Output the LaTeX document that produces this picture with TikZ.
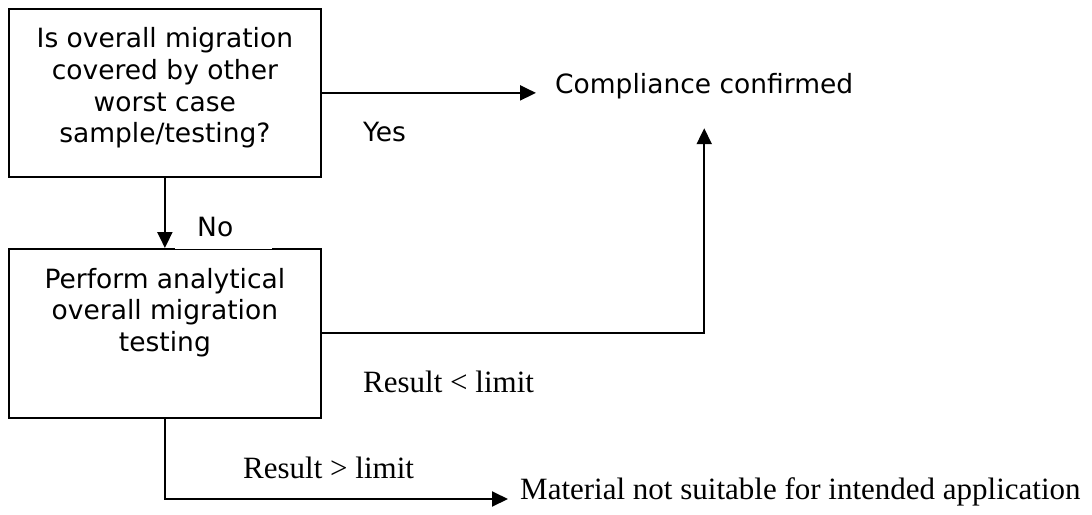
\documentclass[tikz,border=0pt]{standalone}
\usepackage{fontspec}
\newfontfamily\sansf{DejaVu Sans}
\newfontfamily\seriff{Liberation Serif}
\usetikzlibrary{arrows.meta}
\begin{document}
\begin{tikzpicture}[x=1pt,y=-1pt,
  boxst/.style={draw, line width=1.8pt, minimum width=312pt, inner sep=0pt, anchor=north west,
    font=\sansf\fontsize{26.5}{31.7}\selectfont},
  conn/.style={line width=2pt, -{Triangle[length=16pt,width=15pt]}},
  sanslbl/.style={inner sep=0pt, anchor=base west, font=\sansf\fontsize{26.5}{31.7}\selectfont},
  seriflbl/.style={inner sep=0pt, anchor=base west, font=\seriff\fontsize{31}{37}\selectfont}]
\fill[white] (0,0) rectangle (1092,514);
\useasboundingbox (0,0) rectangle (1092,514);

\node[boxst, minimum height=168pt] (box1) at (8,8)
  {\begin{tabular}{@{}c@{}}Is overall migration\\covered by other\\worst case\\sample/testing?\\[7.6pt]\end{tabular}};
\node[boxst, minimum height=169pt] (box2) at (8,248)
  {\begin{tabular}{@{}c@{}}Perform analytical\\overall migration\\testing\\[40pt]\end{tabular}};

\node[sanslbl, inner xsep=19pt, inner ysep=29.5pt] (comp) at (536,93) {Compliance confirmed};
\node[sanslbl] (yes) at (363,141) {Yes};
\node[sanslbl, anchor=south west, fill=white, text width=97pt, align=left, minimum height=44.5pt] (no) at (175,249.5) {\hspace*{22pt}No};
\node[seriflbl] (rlt) at (363,392) {Result < limit};
\node[seriflbl] (rgt) at (243,478) {Result > limit};
\node[seriflbl, inner xsep=12pt] (mat) at (508,499) {Material not suitable for intended application};

\draw[conn] (box1.east) -- (box1.east -| comp.west);
\draw[conn] (box1.south) -- (box2.north);
\draw[conn] (box2.east) -| (comp.south);
\draw[conn] (box2.south) |- (mat.base west);
\end{tikzpicture}
\end{document}
